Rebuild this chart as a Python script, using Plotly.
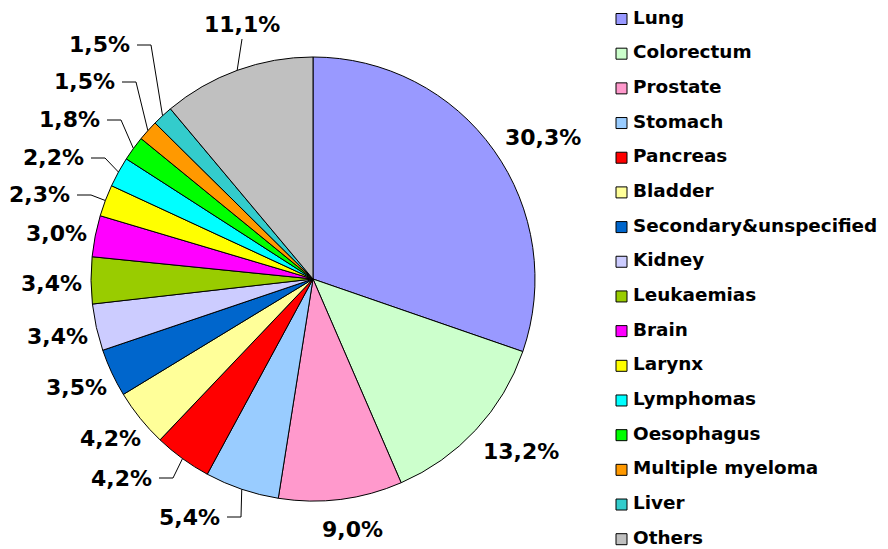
import math
import plotly.graph_objects as go

# // data
sites = ["Lung", "Colorectum", "Prostate", "Stomach", "Pancreas", "Bladder",
         "Secondary&unspecified", "Kidney", "Leukaemias", "Brain", "Larynx",
         "Lymphomas", "Oesophagus", "Multiple myeloma", "Liver", "Others"]
shares = [30.3, 13.2, 9.0, 5.4, 4.2, 4.2, 3.5, 3.4, 3.4, 3.0, 2.3, 2.2, 1.8, 1.5, 1.5, 11.1]
colours = ["#9999FF", "#CCFFCC", "#FF99CC", "#99CCFF", "#FF0000", "#FFFF99",
           "#0066CC", "#CCCCFF", "#99CC00", "#FF00FF", "#FFFF00", "#00FFFF",
           "#00FF00", "#FF9900", "#33CCCC", "#C0C0C0"]

# // layout (screen pixels; the page body has an 8px margin)
SW, SH = 888, 549
OFF = 8
W, H = SW - OFF, SH - OFF
cx, cy, R = 313, 279, 222
FONT = "DejaVu Sans"
label_size = 22
gap = 15

# labels that were dragged off the pie with a leader line: (right edge x, y)
leader_pos = {
    "Stomach": (222, 517),
    "Pancreas": (154, 478),
    "Larynx": (72, 195),
    "Lymphomas": (86, 158),
    "Oesophagus": (102, 120),
    "Multiple myeloma": (117, 82),
    "Liver": (132, 45),
}
others_pos = (242, 25)


def px(x):
    return (x - OFF) / W


def py(y):
    return 1 - (y - OFF) / H


def fmt(v):
    return f"{v:.1f}".replace(".", ",") + "%"


fig = go.Figure()
fig.add_trace(go.Pie(
    labels=sites, values=shares, sort=False, direction="clockwise", rotation=0,
    marker=dict(colors=colours, line=dict(color="black", width=1)),
    textinfo="none", hoverinfo="label+percent", showlegend=False,
    domain=dict(x=[px(cx - R), px(cx + R)], y=[py(cy + R), py(cy - R)]),
))

# // legend drawn as a scatter on a hidden axis
n = len(sites)
row0, step = 19, 34.68
fig.add_trace(go.Scatter(
    x=[621.5] * n, y=list(range(n)), mode="markers", hoverinfo="skip", showlegend=False,
    marker=dict(symbol="square", size=11, color=colours, line=dict(color="black", width=1)),
))
fig.add_trace(go.Scatter(
    x=[633] * n, y=list(range(n)), mode="text", text=sites, textposition="middle right",
    hoverinfo="skip", showlegend=False, cliponaxis=False,
    textfont=dict(family=FONT, size=18.4, color="black", weight="bold"),
))

# // percentage labels
total = sum(shares)
cum = 0
annotations = []
shapes = []
for site, v in zip(sites, shares):
    mid = (cum + v / 2) / total * 2 * math.pi
    cum += v
    s, c = math.sin(mid), math.cos(mid)
    ex, ey = cx + R * s, cy - R * c
    text = fmt(v)
    if site in leader_pos:
        xr, y = leader_pos[site]
        annotations.append(dict(x=px(xr), y=py(y), text=text, xanchor="right", yanchor="middle"))
        path = f"M {px(xr + 5)},{py(y)} L {px(xr + 19)},{py(y)} L {px(ex)},{py(ey)}"
        shapes.append(dict(type="path", path=path, xref="paper", yref="paper",
                           line=dict(color="black", width=1)))
    elif site == "Others":
        x, y = others_pos
        annotations.append(dict(x=px(x), y=py(y), text=text, xanchor="center", yanchor="middle"))
        path = f"M {px(x)},{py(y + 14)} L {px(ex)},{py(ey)}"
        shapes.append(dict(type="path", path=path, xref="paper", yref="paper",
                           line=dict(color="black", width=1)))
    else:
        w = label_size * (0.696 * (len(text) - 2) + 0.38 + 1.002)
        lx = cx + (R + gap) * s + s * w / 2 + 6
        ly = cy - (R + gap) * c - c * 12 + 3
        annotations.append(dict(x=px(lx), y=py(ly), text=text, xanchor="center", yanchor="middle"))

for a in annotations:
    a.update(xref="paper", yref="paper", showarrow=False,
             font=dict(family=FONT, size=label_size, color="black", weight="bold"))

fig.update_layout(
    width=W, height=H,
    margin=dict(l=0, r=0, t=0, b=0),
    paper_bgcolor="white", plot_bgcolor="white",
    xaxis=dict(range=[OFF, SW], visible=False, fixedrange=True),
    yaxis=dict(range=[(SH - row0) / step, (OFF - row0) / step], visible=False, fixedrange=True),
    annotations=annotations,
    shapes=shapes,
    showlegend=False,
)

fig.write_html("out.html")
